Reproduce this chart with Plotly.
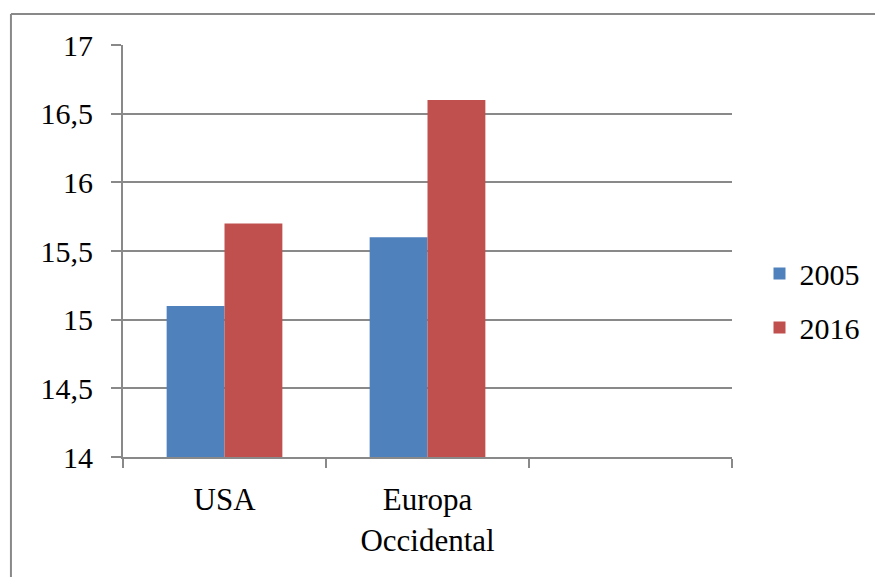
import plotly.graph_objects as go

categories = ["USA", "Europa<br>Occidental", " "]
series_names = ["2005", "2016"]
values_2005 = [15.1, 15.6, None]
values_2016 = [15.7, 16.6, None]
y_ticks = [14, 14.5, 15, 15.5, 16, 16.5, 17]

BLUE = "#4F81BD"
RED = "#C0504D"
GRID = "#898989"
FONT = "Times New Roman"

fig = go.Figure()
fig.add_trace(go.Bar(name=series_names[0], x=categories, y=values_2005,
                     legendgroup="a",
                     marker=dict(color=BLUE, line=dict(width=0))))
fig.add_trace(go.Bar(name=series_names[1], x=categories, y=values_2016,
                     legendgroup="b",
                     marker=dict(color=RED, line=dict(width=0))))

fig.update_layout(
    width=875, height=577,
    margin=dict(l=123, r=143, t=45, b=120, autoexpand=False),
    paper_bgcolor="white", plot_bgcolor="white",
    barmode="group", bargap=0.43, bargroupgap=0,
    separators=", ",
    font=dict(family=FONT, size=30, color="black"),
    legend=dict(xref="container", x=0.868, y=0.38, xanchor="left", yanchor="middle",
                font=dict(family=FONT, size=30), itemwidth=30, tracegroupgap=12),
    xaxis=dict(type="category", categoryorder="array", categoryarray=categories,
               range=[-0.5, 2.5], tickson="boundaries", ticks="outside",
               ticklen=9, tickwidth=2, tickcolor=GRID,
               showline=True, linecolor=GRID, linewidth=2,
               showgrid=False, ticklabelstandoff=14,
               tickfont=dict(family=FONT, size=31)),
    yaxis=dict(range=[14, 17], tickvals=y_ticks, ticks="outside",
               ticklen=10, tickwidth=2, tickcolor=GRID,
               showline=True, linecolor=GRID, linewidth=2,
               showgrid=True, gridcolor=GRID, gridwidth=2,
               zeroline=False, ticklabelstandoff=12,
               tickfont=dict(family=FONT, size=30)),
)

# chart frame (left and top edges)
fig.add_shape(type="line", xref="paper", yref="paper",
              x0=-0.184, y0=-0.4, x1=-0.184, y1=1.075,
              line=dict(color=GRID, width=2))
fig.add_shape(type="line", xref="paper", yref="paper",
              x0=-0.184, y0=1.075, x1=1.3, y1=1.075,
              line=dict(color=GRID, width=2))

fig.write_html("out.html")
